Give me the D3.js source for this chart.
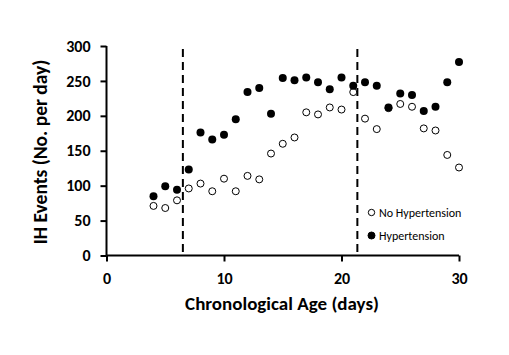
<!DOCTYPE html>
<html><head><meta charset="utf-8">
<script src="https://cdn.jsdelivr.net/npm/d3@7"></script>
<style>
body{margin:0;background:#fff;}
text{font-family:Carlito, Lato, "Open Sans", sans-serif;}
</style></head>
<body><svg id="c" width="509" height="355"></svg>
<script>
const days = [4,5,6,7,8,9,10,11,12,13,14,15,16,17,18,19,20,21,22,23,24,25,26,27,28,29,30];
const noHypertension = [71,68,79,96,103,92,110,92,114,109,146,160,169,205,202,212,209,234,196,181,211,217,213,182,179,144,126];
const hypertension = [85,99,94,123,176,166,173,195,234,240,203,254,251,255,248,238,255,243,248,243,212,232,230,207,213,248,277];
const xTicks = [0,10,20,30];
const yTicks = [0,50,100,150,200,250,300];
const dashedDays = [6.5,21.35];
const legendLabels = ["No Hypertension","Hypertension"];

const svg = d3.select("#c");
const x = d3.scaleLinear().domain([0,30]).range([106.5,459]);
const y = d3.scaleLinear().domain([0,300]).range([255.5,46]);

const xAxis = svg.append("g").attr("transform","translate(0,255.5)")
  .call(d3.axisBottom(x).tickValues(xTicks).tickSize(6).tickPadding(11));
const yAxis = svg.append("g").attr("transform","translate(106.5,0)")
  .call(d3.axisLeft(y).tickValues(yTicks).tickSize(6).tickPadding(10));
[xAxis,yAxis].forEach(a=>{
  a.select(".domain").attr("stroke","#000").attr("stroke-width",2);
  a.selectAll(".tick line").attr("stroke","#000").attr("stroke-width",2);
  a.selectAll(".tick text").attr("fill","#000").style("font-size","16px").style("font-weight","bold").style("font-family","Carlito, Lato, sans-serif");
});
xAxis.select(".domain").attr("d","M106.5,0H459");
yAxis.select(".domain").attr("d","M0,255.5V46");

svg.selectAll("line.dash").data(dashedDays).enter().append("line")
  .attr("x1",d=>x(d)).attr("x2",d=>x(d)).attr("y1",49).attr("y2",255)
  .attr("stroke","#000").attr("stroke-width",2).attr("stroke-dasharray","8,5");

svg.selectAll("circle.open").data(days).enter().append("circle")
  .attr("cx",d=>x(d)).attr("cy",(d,i)=>y(noHypertension[i])).attr("r",3.5)
  .attr("fill","#fff").attr("stroke","#000").attr("stroke-width",1);
svg.selectAll("circle.fill").data(days).enter().append("circle")
  .attr("cx",d=>x(d)).attr("cy",(d,i)=>y(hypertension[i])).attr("r",4)
  .attr("fill","#000");

// legend
const lg = svg.append("g");
legendLabels.forEach((t,i)=>{
  const yy = 212.5 + i*23;
  lg.append("circle").attr("cx",371.5).attr("cy",yy).attr("r",i===0?3.2:3.5)
    .attr("fill",i===0?"#fff":"#000").attr("stroke","#000").attr("stroke-width",1);
  lg.append("text").attr("x",379).attr("y",yy+4).text(t)
    .style("font-size","12px").attr("fill","#000");
});

svg.append("text").attr("x",282).attr("y",310).attr("text-anchor","middle")
  .style("font-size","19px").style("font-weight","bold").text("Chronological Age (days)");
svg.append("text").attr("transform","translate(47,152) rotate(-90)").attr("text-anchor","middle")
  .style("font-size","19.5px").style("font-weight","bold").text("IH Events (No. per day)");
</script></body></html>
